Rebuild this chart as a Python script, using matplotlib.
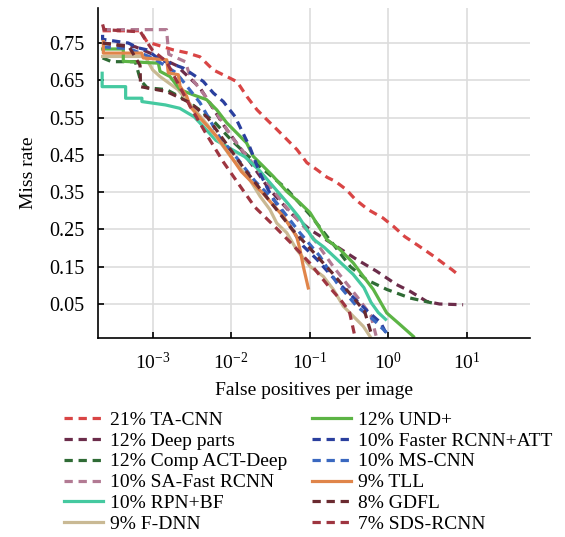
import matplotlib
matplotlib.use("Agg")
import matplotlib.pyplot as plt
import numpy as np

plt.rcParams['font.family'] = ['Liberation Serif', 'DejaVu Serif']
plt.rcParams['mathtext.fontset'] = 'custom'
plt.rcParams['mathtext.rm'] = 'Liberation Serif'
plt.rcParams['mathtext.it'] = 'Liberation Serif:italic'

labels = ["21% TA-CNN", "12% Deep parts", "12% Comp ACT-Deep", "10% SA-Fast RCNN",
          "10% RPN+BF", "9% F-DNN", "12% UND+", "10% Faster RCNN+ATT",
          "10% MS-CNN", "9% TLL", "8% GDFL", "7% SDS-RCNN"]

ta_cnn_x = [2.3e-4, 6.9e-4, 8.5e-4, 1.8e-3, 2.7e-3, 4.0e-3, 5.9e-3, 8.8e-3, 0.0119, 0.0159, 0.0213,
            0.0286, 0.0383, 0.0514, 0.0689, 0.092, 0.124, 0.166, 0.212, 0.292, 0.383, 0.556, 0.853,
            1.17, 1.62, 2.48, 3.81, 5.26, 6.5, 7.75]
ta_cnn_y = [0.783, 0.783, 0.753, 0.732, 0.724, 0.713, 0.678, 0.660, 0.646, 0.606, 0.571,
            0.544, 0.518, 0.491, 0.464, 0.429, 0.41, 0.39, 0.379, 0.357, 0.330, 0.303, 0.281,
            0.258, 0.231, 0.205, 0.178, 0.156, 0.142, 0.129]

deep_parts_x = [2.3e-4, 6e-4, 1e-3, 2e-3, 4e-3, 8e-3, 0.015, 0.03, 0.06, 0.1, 0.2, 0.4, 0.71, 1.28, 1.9, 3.09, 4.5, 9.0]
deep_parts_y = [0.75, 0.74, 0.72, 0.69, 0.63, 0.53, 0.45, 0.36, 0.29, 0.25, 0.21, 0.169, 0.138, 0.102, 0.084, 0.057, 0.05, 0.048]

comp_act_x = [2.3e-4, 3e-4, 6e-4, 7e-4, 8.5e-4, 1.5e-3, 2.5e-3, 4e-3, 6e-3, 0.01, 0.02, 0.05, 0.1, 0.2, 0.33, 0.53, 0.96, 1.9, 3.6]
comp_act_y = [0.71, 0.70, 0.70, 0.65, 0.63, 0.625, 0.60, 0.57, 0.54, 0.49, 0.43, 0.36, 0.29, 0.21, 0.15, 0.115, 0.089, 0.066, 0.053]

sa_fast_x = [2.3e-4, 1.5e-3, 1.6e-3, 2.6e-3, 3e-3, 5e-3, 0.01, 0.02, 0.05, 0.1, 0.2, 0.4, 0.6, 0.7]
sa_fast_y = [0.786, 0.786, 0.72, 0.70, 0.66, 0.60, 0.50, 0.42, 0.31, 0.24, 0.15, 0.07, 0.02, -0.035]

rpn_bf_x = [2.27e-4, 2.27e-4, 4.52e-4, 4.52e-4, 7.28e-4, 7.28e-4, 1.45e-3, 2.21e-3, 3.38e-3, 4.64e-3, 6.38e-3,
            9.75e-3, 0.0149, 0.0227, 0.0347, 0.053, 0.0728, 0.111, 0.153, 0.233, 0.356, 0.49, 0.605, 0.748, 0.925]
rpn_bf_y = [0.669, 0.633, 0.633, 0.602, 0.602, 0.593, 0.584, 0.575, 0.552, 0.521, 0.489,
            0.467, 0.445, 0.409, 0.364, 0.319, 0.283, 0.224, 0.202, 0.166, 0.130, 0.094, 0.054, 0.027, 0.009]

f_dnn_x = [2.3e-4, 8e-4, 1.0e-3, 1.24e-3, 2.1e-3, 5e-3, 9.5e-3, 0.0173, 0.0233, 0.0312, 0.038, 0.051, 0.068,
           0.101, 0.149, 0.200, 0.268, 0.359, 0.482, 0.586]
f_dnn_y = [0.714, 0.714, 0.678, 0.660, 0.625, 0.53, 0.45, 0.383, 0.339, 0.303, 0.267, 0.241, 0.196,
           0.151, 0.124, 0.089, 0.044, 0.017, -0.010, -0.037]

und_x = [2.3e-4, 4.22e-4, 4.22e-4, 1.18e-3, 1.24e-3, 1.66e-3, 2.23e-3, 3.29e-3, 4.87e-3, 6.53e-3, 8.77e-3,
         0.01175, 0.0157, 0.0191, 0.0257, 0.0344, 0.0509, 0.0752, 0.101, 0.165, 0.243, 0.359, 0.482,
         0.646, 0.957, 1.41, 2.09]
und_y = [0.734, 0.734, 0.701, 0.696, 0.674, 0.660, 0.625, 0.611, 0.598, 0.571, 0.536,
         0.509, 0.482, 0.446, 0.419, 0.392, 0.352, 0.321, 0.295, 0.223, 0.196, 0.160, 0.124,
         0.089, 0.026, -0.005, -0.037]

faster_att_x = [2.3e-4, 2.3e-4, 4.89e-4, 6.56e-4, 8.38e-4, 1.24e-3, 1.66e-3, 2.45e-3, 3.29e-3, 4.41e-3,
                5.92e-3, 7.93e-3, 0.01117, 0.0173, 0.0233, 0.031, 0.068, 0.083, 0.123, 0.2, 0.35, 0.55, 0.8, 0.95]
faster_att_y = [0.772, 0.76, 0.750, 0.737, 0.732, 0.705, 0.696, 0.683, 0.665, 0.647,
                0.616, 0.593, 0.553, 0.47, 0.40, 0.348, 0.231, 0.205, 0.17, 0.12, 0.07, 0.03, 0.0, -0.03]

ms_cnn_x = [2.3e-4, 5e-4, 1e-3, 2e-3, 4e-3, 7e-3, 0.012, 0.02, 0.038, 0.075, 0.135, 0.221, 0.397, 0.646, 0.957]
ms_cnn_y = [0.74, 0.735, 0.71, 0.67, 0.59, 0.50, 0.44, 0.38, 0.321, 0.241, 0.178, 0.107, 0.044, 0.008, -0.027]

tll_x = [2.35e-4, 2.35e-4, 7.24e-4, 7.59e-4, 1.51e-3, 1.58e-3, 2.12e-3, 2.23e-3, 2.71e-3, 2.99e-3, 4.21e-3,
         6.53e-3, 8.76e-3, 0.0135, 0.0245, 0.0461, 0.0682, 0.0752, 0.0828, 0.0959]
tll_y = [0.754, 0.723, 0.723, 0.710, 0.705, 0.670, 0.665, 0.634, 0.607, 0.580, 0.544,
         0.500, 0.462, 0.405, 0.350, 0.285, 0.231, 0.196, 0.151, 0.093]

gdfl_x = [2.3e-4, 5e-4, 6.9e-4, 7e-4, 1.5e-3, 3e-3, 5e-3, 8e-3, 0.015, 0.03, 0.06, 0.1, 0.2, 0.35, 0.5, 0.62]
gdfl_y = [0.75, 0.74, 0.69, 0.633, 0.62, 0.59, 0.55, 0.49, 0.41, 0.33, 0.25, 0.20, 0.13, 0.07, 0.03, -0.035]

sds_x = [2.3e-4, 2.4e-4, 7e-4, 8e-4, 1e-3, 1.5e-3, 2e-3, 3e-3, 5e-3, 8e-3, 0.013, 0.02, 0.035, 0.06, 0.1, 0.17, 0.25, 0.32, 0.37]
sds_y = [0.80, 0.786, 0.78, 0.76, 0.73, 0.70, 0.65, 0.58, 0.50, 0.43, 0.366, 0.31, 0.26, 0.21, 0.16, 0.10, 0.06, 0.03, -0.03]

series = [
    (ta_cnn_x, ta_cnn_y, '#d94545', True),
    (deep_parts_x, deep_parts_y, '#6b2c4a', True),
    (comp_act_x, comp_act_y, '#2f6b35', True),
    (sa_fast_x, sa_fast_y, '#b27a93', True),
    (rpn_bf_x, rpn_bf_y, '#45c9a0', False),
    (f_dnn_x, f_dnn_y, '#c9b994', False),
    (und_x, und_y, '#5cb445', False),
    (faster_att_x, faster_att_y, '#2a3f9e', True),
    (ms_cnn_x, ms_cnn_y, '#3a68c0', True),
    (tll_x, tll_y, '#e0854a', False),
    (gdfl_x, gdfl_y, '#6a2a30', True),
    (sds_x, sds_y, '#9e3540', True),
]

fig = plt.figure(figsize=(5.65, 5.37), dpi=100)
ax = fig.add_axes([98.3 / 565, 1 - 338.3 / 537, (530 - 98.3) / 565, (338.3 - 8) / 537])

handles = []
for (xs, ys, col, dashed), lab in zip(series, labels):
    if dashed:
        ln, = ax.plot(xs, ys, color=col, lw=2.3, dashes=(2.6, 1.8), label=lab)
    else:
        ln, = ax.plot(xs, ys, color=col, lw=2.3, label=lab)
    handles.append(ln)

ax.set_xscale('log')
ax.set_xlim(10 ** -3.693, 10 ** 1.806)
ax.set_ylim(-0.042, 0.844)
ax.set_xticks([1e-3, 1e-2, 1e-1, 1e0, 1e1])
ax.xaxis.set_minor_locator(matplotlib.ticker.NullLocator())
ax.set_yticks([0.05, 0.15, 0.25, 0.35, 0.45, 0.55, 0.65, 0.75])
ax.set_yticklabels(['0.05', '0.15', '0.25', '0.35', '0.45', '0.55', '0.65', '0.75'])
ax.grid(True, color='#dddddd', lw=1.2)
ax.set_axisbelow(True)
for s in ['top', 'right']:
    ax.spines[s].set_visible(False)
for s in ['left', 'bottom']:
    ax.spines[s].set_linewidth(1.2)
ax.tick_params(axis='both', direction='in', length=4, width=1.2)
ax.tick_params(axis='x', pad=10, labelsize=14)
ax.tick_params(axis='y', pad=10, labelsize=14.5)
ax.set_xlabel('False positives per image', fontsize=14, labelpad=6)
ax.set_ylabel('Miss rate', fontsize=14, labelpad=9)

fig.legend(handles=handles, loc='upper left', bbox_to_anchor=(64 / 565, 1 - 411 / 537),
           ncol=2, frameon=False, fontsize=14, handlelength=2.0, handletextpad=0.35,
           columnspacing=1.3, labelspacing=0.17, borderpad=0, borderaxespad=0)

fig.savefig('out.png', dpi=100)
